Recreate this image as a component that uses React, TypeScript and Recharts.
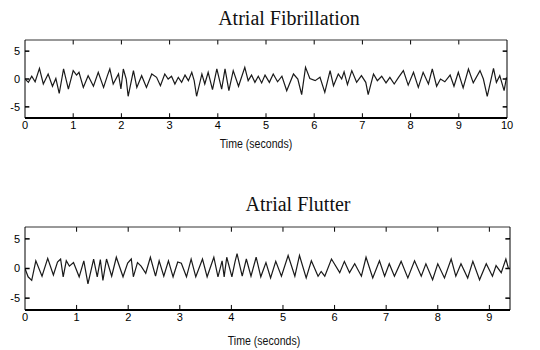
import React from 'react';
import { LineChart, Line, XAxis, YAxis, ReferenceLine } from 'recharts';

// atrial fibrillation trace (seconds / amplitude)
const fibTime = [
  0.0, 0.07, 0.14, 0.21, 0.3, 0.38, 0.48, 0.57, 0.64, 0.71, 0.8, 0.9, 1.0, 1.07, 1.12, 1.21, 1.31, 1.42, 1.52, 1.63,
  1.71, 1.76, 1.83, 1.94, 1.99, 2.04, 2.1, 2.14, 2.25, 2.32, 2.42, 2.52, 2.63, 2.73, 2.81, 2.9, 2.97, 3.04, 3.11, 3.18,
  3.25, 3.32, 3.39, 3.46, 3.51, 3.56, 3.67, 3.73, 3.8, 3.89, 3.98, 4.08, 4.15, 4.23, 4.32, 4.43, 4.56, 4.63, 4.7, 4.77,
  4.84, 4.91, 4.98, 5.07, 5.15, 5.24, 5.33, 5.43, 5.57, 5.66, 5.74, 5.82, 5.91, 6.02, 6.12, 6.22, 6.33, 6.4, 6.5, 6.57,
  6.62, 6.69, 6.78, 6.88, 6.98, 7.07, 7.12, 7.23, 7.31, 7.4, 7.49, 7.57, 7.66, 7.75, 7.85, 7.95, 8.06, 8.16, 8.26, 8.37,
  8.45, 8.54, 8.62, 8.71, 8.82, 8.9, 8.99, 9.09, 9.2, 9.3, 9.44, 9.51, 9.59, 9.72, 9.78, 9.85, 9.94, 9.99,
];
const fibValue = [
  0.0, -0.6, 0.5, -0.5, 1.9, -0.9, 0.9, -1.3, 0.1, -2.6, 1.8, -1.8, 1.5, 0.7, 1.2, -1.5, 0.6, -1.3, 1.2, -1.5,
  0.6, 1.8, -0.9, 0.9, -1.8, 1.8, 0.0, -3.1, 1.5, -1.5, 0.6, -1.5, 0.9, 0.3, -1.2, 0.9, 0.0, 0.5, -0.9, 0.3,
  -0.6, 0.7, -0.3, 1.2, -0.3, -3.1, 0.9, -0.9, 1.2, -1.9, 1.8, -1.8, 1.8, -2.1, 1.5, -1.3, 2.1, -0.3, 0.7, -0.6,
  0.5, -0.7, 0.7, -0.6, 0.9, -0.5, 0.5, -2.1, 0.9, 0.0, -2.8, 2.1, 0.1, -0.3, 0.3, -2.4, 1.5, -1.2, 0.9, 0.0,
  1.3, -1.0, 1.5, -0.6, 0.6, -0.6, -2.8, 0.9, -0.3, 0.5, -0.7, 0.3, -0.9, 0.3, 1.5, -1.1, 1.2, -1.5, 1.2, -0.9,
  1.8, -1.3, 0.0, -0.5, 0.7, -1.3, 1.2, -1.6, 1.8, -0.7, 1.5, 0.0, -3.1, 1.9, -0.6, 0.6, -2.1, 0.3,
];

// atrial flutter trace
const flutTime = [
  0.0, 0.06, 0.13, 0.21, 0.33, 0.44, 0.55, 0.63, 0.69, 0.74, 0.8, 0.86, 0.94, 1.05, 1.14, 1.22, 1.33, 1.4, 1.46, 1.51,
  1.58, 1.68, 1.77, 1.9, 1.99, 2.06, 2.1, 2.18, 2.25, 2.34, 2.43, 2.53, 2.6, 2.69, 2.78, 2.87, 2.96, 3.03, 3.13, 3.22,
  3.31, 3.44, 3.53, 3.66, 3.74, 3.82, 3.86, 3.91, 4.01, 4.07, 4.11, 4.21, 4.29, 4.38, 4.48, 4.57, 4.67, 4.76, 4.86, 4.97,
  5.1, 5.23, 5.32, 5.45, 5.55, 5.68, 5.74, 5.81, 5.94, 6.1, 6.19, 6.29, 6.39, 6.52, 6.61, 6.74, 6.87, 6.97, 7.06, 7.16,
  7.29, 7.42, 7.55, 7.68, 7.77, 7.9, 8.0, 8.13, 8.26, 8.35, 8.45, 8.58, 8.68, 8.81, 8.94, 9.06, 9.13, 9.23, 9.32, 9.37,
];
const flutValue = [
  0.0, -1.4, -2.0, 1.3, -1.3, 1.7, -1.1, 1.1, 1.6, -1.4, 1.3, 0.4, 1.0, -1.4, 1.3, -2.6, 1.6, -1.4, 1.5, -2.0,
  1.6, -1.3, 1.9, -1.4, 0.9, 1.6, -1.4, 1.0, 0.4, -0.8, 1.9, -1.3, 1.3, -1.3, 1.3, -1.4, 1.1, 0.9, -1.4, 1.6,
  -1.4, 1.6, -1.4, 1.9, -1.4, 1.3, -1.4, 1.9, -1.4, 1.1, 2.5, -1.3, 1.6, -1.3, 1.9, -1.4, 1.0, -1.6, 1.2, -1.3,
  2.2, -1.3, 2.2, -1.6, 1.3, -1.3, -0.5, -1.3, 1.6, -0.7, 1.2, -0.7, 0.8, -1.3, 1.9, -1.6, 1.3, -1.3, 0.8, -1.3,
  1.2, -1.6, 1.3, -1.3, 0.8, -1.9, 0.8, -1.6, 1.6, -1.3, 0.8, -1.6, 1.2, -1.9, 0.8, -1.3, 0.5, -0.7, 1.6, 0.0,
];

const fibTicks = [0, 1, 2, 3, 4, 5, 6, 7, 8, 9, 10];
const flutTicks = [0, 1, 2, 3, 4, 5, 6, 7, 8, 9];
const yTicks = [-5, 0, 5];

const fibData = fibTime.map((t, i) => ({ t, v: fibValue[i] }));
const flutData = flutTime.map((t, i) => ({ t, v: flutValue[i] }));

const tickFont = { fontSize: 11, fill: '#000', fontFamily: 'Liberation Sans Narrow, Liberation Sans, Arial, sans-serif' };

// matlab-style inward tick marks on all four sides
function innerTicks(ticks: number[], xMax: number) {
  const xs = ticks.filter((t) => t > 0 && t < xMax);
  const out: any[] = [];
  xs.forEach((t) => {
    out.push(<ReferenceLine key={'b' + t} segment={[{ x: t, y: -7 }, { x: t, y: -6.15 }]} stroke="#000" />);
    out.push(<ReferenceLine key={'t' + t} segment={[{ x: t, y: 7 }, { x: t, y: 6.2 }]} stroke="#000" />);
  });
  yTicks.forEach((v) => {
    out.push(<ReferenceLine key={'l' + v} segment={[{ x: 0, y: v }, { x: 0.09, y: v }]} stroke="#000" strokeWidth={1.5} />);
    out.push(<ReferenceLine key={'r' + v} segment={[{ x: xMax, y: v }, { x: xMax - 0.09, y: v }]} stroke="#000" strokeWidth={1.5} />);
  });
  return out;
}

const Panel = ({ data, domainMax, ticks, height, margin }: any) => (
  <LineChart width={540} height={height} data={data} margin={margin}>
    <XAxis dataKey="t" type="number" domain={[0, domainMax]} ticks={ticks} allowDataOverflow
      height={22} tickLine={false} tickSize={0} tickMargin={3} tick={tickFont} stroke="#000" strokeWidth={1.8} />
    <XAxis xAxisId="top" orientation="top" dataKey="t" type="number" domain={[0, domainMax]} ticks={ticks} allowDataOverflow
      height={1} tickLine={false} tick={false} stroke="#333" />
    <YAxis domain={[-7, 7]} ticks={yTicks} width={25} tickLine={false} tickSize={0} tickMargin={5} tick={tickFont} stroke="#000" allowDataOverflow />
    <YAxis yAxisId="r" orientation="right" domain={[-7, 7]} ticks={yTicks} width={1} tickLine={false} tick={false} stroke="#000" />
    {innerTicks(ticks, domainMax)}
    <Line dataKey="v" stroke="#1a1a1a" strokeWidth={1.2} dot={false} isAnimationActive={false} />
  </LineChart>
);

const titleStyle: React.CSSProperties = {
  position: 'absolute', fontFamily: 'Liberation Serif, Times New Roman, serif', fontSize: 20, color: '#111', whiteSpace: 'nowrap',
  transform: 'translateX(-50%)', lineHeight: '20px',
};
const axisLabelStyle: React.CSSProperties = {
  position: 'absolute', fontFamily: 'Liberation Sans Narrow, Liberation Sans, Arial, sans-serif', fontSize: 12, color: '#111',
  whiteSpace: 'nowrap', transform: 'translateX(-50%) scaleX(0.88)', lineHeight: '12px',
};

export default function App() {
  return (
    <div style={{ position: 'absolute', left: 0, top: 0, width: 540, height: 350, background: '#fff', overflow: 'hidden' }}>
      <div style={{ ...titleStyle, left: 289, top: 8 }}>Atrial Fibrillation</div>
      <div style={{ position: 'absolute', left: 0, top: 0 }}>
        <Panel data={fibData} domainMax={10} ticks={fibTicks} height={140} margin={{ top: 39, left: 0, right: 32, bottom: 0 }} />
      </div>
      <div style={{ ...axisLabelStyle, left: 256, top: 138 }}>Time (seconds)</div>

      <div style={{ ...titleStyle, left: 298, top: 194 }}>Atrial Flutter</div>
      <div style={{ position: 'absolute', left: 0, top: 175 }}>
        <Panel data={flutData} domainMax={9.4} ticks={flutTicks} height={157} margin={{ top: 51, left: 0, right: 29, bottom: 0 }} />
      </div>
      <div style={{ ...axisLabelStyle, left: 264, top: 335 }}>Time (seconds)</div>
    </div>
  );
}
